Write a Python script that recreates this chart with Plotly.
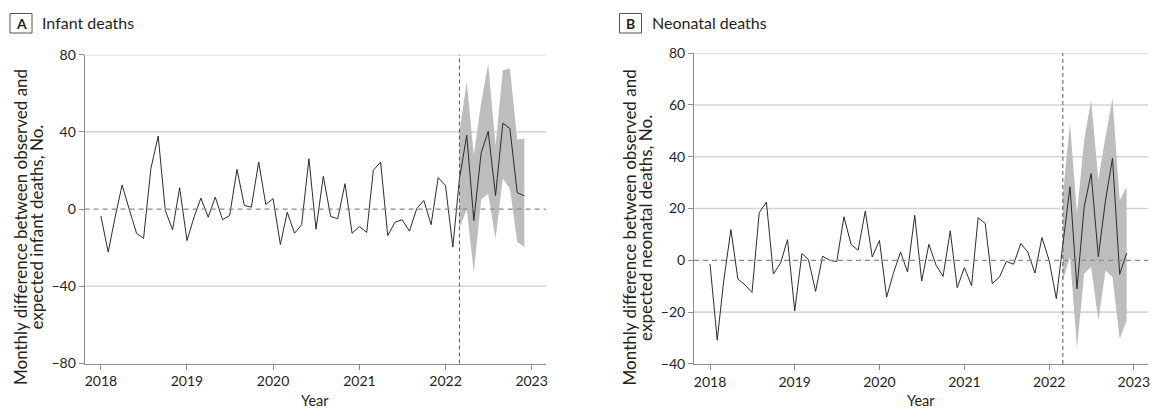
import plotly.graph_objects as go
import pandas as pd

# ---------------- data ----------------
months = pd.date_range("2018-01-01", "2022-12-01", freq="MS")
band_months = pd.date_range("2022-03-01", "2022-12-01", freq="MS")
intervention = "2022-03-01"

infant_diff = [-3.5, -22.3, -5, 12.5, 0, -12.5, -15.2, 21, 37.9, -0.7,
               -10.7, 11.1, -16.3, -3.8, 5.7, -4.2, 6.2, -5.5, -3.3, 20.6,
               1.9, 1.0, 24.4, 2.4, 5.4, -18.4, -1.6, -12.5, -8.1, 26.1,
               -10.4, 17.0, -3.8, -5.0, 13.2, -12.5, -9.0, -12.1, 20.1, 24.4,
               -13.7, -6.8, -5.5, -11.4, 0.2, 4.5, -8.1, 16.3, 12.3, -19.7,
               15.6, 38.3, -5.9, 29, 40.3, 7, 44.5, 41.7, 8.5, 6.9]
infant_upper = [40, 66, 28, 55, 75.5, 33, 72, 73, 36, 36.5]
infant_lower = [-10, 0, -33, 5, 8, -15.5, 15.8, 10.6, -17, -19.7]

neonatal_diff = [-1.4, -30.8, -8, 11.9, -7.2, -9.5, -12.4, 18.4, 22.5, -5.3,
                 -1.0, 8.0, -19.5, 2.6, 0.3, -12.0, 1.6, 0, -0.5, 16.8,
                 6.1, 3.9, 19.0, 1.3, 7.7, -14.2, -5, 3.2, -4.5, 17.4,
                 -8.0, 6.2, -1.9, -6.2, 11.4, -10.6, -2.8, -9.8, 16.5, 14.2,
                 -9.0, -6.5, -0.4, -1.5, 6.5, 3.2, -4.9, 8.8, 0, -14.8,
                 6, 28.4, -11, 20.6, 33.5, 1.4, 23.2, 39.4, -5.4, 2.8]
neonatal_upper = [25, 52.9, 18, 46.5, 62, 31, 47.7, 62.6, 23.2, 28.4]
neonatal_lower = [-8, 1.3, -34, -5.2, -2.6, -23.2, -3.9, -6.5, -30.3, -23.2]

year_ticks = ["2018-01-01", "2019-01-01", "2020-01-01", "2021-01-01", "2022-01-01", "2023-01-01"]
year_labels = ["2018", "2019", "2020", "2021", "2022", "2023"]
infant_yticks = [-80, -40, 0, 40, 80]
neonatal_yticks = [-40, -20, 0, 20, 40, 60, 80]

panel_letters = ["A", "B"]
panel_titles = ["Infant deaths", "Neonatal deaths"]
ytitle_line1 = "Monthly difference between observed and"
ytitle_line2 = ["expected infant deaths, No.", "expected neonatal deaths, No."]

# ---------------- layout helpers ----------------
W, H = 1157, 409
def fx(p):
    return p / W
def fy(p):
    return 1 - p / H

FONT = "Lato"
TXT = "#231f20"
AXC = "#8c8c8c"
GRID = "#d6d6d6"
BAND = "#bdbdbd"

fig = go.Figure()

panels = [
    dict(x="x", y="y", diff=infant_diff, up=infant_upper, lo=infant_lower,
         yt=infant_yticks, yr=[-80, 80], xdom=[fx(84.6), fx(546)], ydom=[fy(363.5), fy(54.7)]),
    dict(x="x2", y="y2", diff=neonatal_diff, up=neonatal_upper, lo=neonatal_lower,
         yt=neonatal_yticks, yr=[-40, 80], xdom=[fx(694), fx(1148)], ydom=[fy(363.9), fy(53.2)]),
]

shapes = []
annotations = []
x_range = ["2017-10-24", "2023-03-03"]

for k, p in enumerate(panels):
    bx = list(band_months) + list(band_months[::-1])
    by = p["up"] + p["lo"][::-1]
    fig.add_trace(go.Scatter(x=bx, y=by, fill="toself", fillcolor=BAND,
                             line=dict(width=0), mode="lines", hoverinfo="skip",
                             xaxis=p["x"], yaxis=p["y"], showlegend=False))
    fig.add_trace(go.Scatter(x=months, y=p["diff"], mode="lines",
                             line=dict(color="#2b2b2b", width=1),
                             xaxis=p["x"], yaxis=p["y"], showlegend=False))
    xs = "" if k == 0 else "2"
    for v in p["yt"]:
        if v == 0 or v == p["yr"][0]:
            continue
        shapes.append(dict(type="line", xref=f"x{xs} domain", yref=f"y{xs}",
                           x0=0, x1=1, y0=v, y1=v, layer="below",
                           line=dict(color=GRID, width=1.6)))
    shapes.append(dict(type="line", xref=f"x{xs} domain", yref=f"y{xs}",
                       x0=0, x1=1, y0=0, y1=0, layer="above",
                       line=dict(color="#8a8a8a", width=1.3, dash="5px,4px")))
    shapes.append(dict(type="line", xref=f"x{xs}", yref=f"y{xs} domain",
                       x0=intervention, x1=intervention, y0=0, y1=1, layer="above",
                       line=dict(color="#555555", width=1, dash="4px,3px")))

    ax = dict(domain=p["xdom"], type="date", range=x_range, automargin=False,
              tickvals=year_ticks, ticktext=year_labels, ticks="outside",
              ticklen=5, tickcolor=AXC, showline=True, linecolor=AXC, linewidth=1,
              showgrid=False, zeroline=False,
              tickfont=dict(family=FONT, size=14, color=TXT),
              anchor="y" + xs)
    ay = dict(domain=p["ydom"], range=p["yr"], tickvals=p["yt"], automargin=False,
              ticks="outside", ticklen=5, tickcolor=AXC, showline=True,
              linecolor=AXC, linewidth=1, showgrid=False, zeroline=False,
              tickfont=dict(family=FONT, size=14, color=TXT),
              anchor="x" + xs)
    fig.layout["xaxis" + xs] = ax
    fig.layout["yaxis" + xs] = ay

    off = 0 if k == 0 else 609.4
    boff = 0 if k == 0 else 609.5
    shapes.append(dict(type="rect", xref="paper", yref="paper",
                       x0=fx(10 + boff), x1=fx(32 + boff), y0=fy(33), y1=fy(13.5),
                       line=dict(color="#555555", width=1), fillcolor="white"))
    annotations.append(dict(text="<b>" + panel_letters[k] + "</b>", xref="paper", yref="paper",
                            x=fx(21 + boff), y=fy(23.5), showarrow=False,
                            xanchor="center", yanchor="middle",
                            font=dict(family=FONT, size=14, color=TXT)))
    annotations.append(dict(text=panel_titles[k], xref="paper", yref="paper",
                            x=fx(40 + boff), y=fy(22.5), showarrow=False,
                            xanchor="left", yanchor="middle",
                            font=dict(family=FONT, size=16, color=TXT)))
    annotations.append(dict(text=ytitle_line1, xref="paper", yref="paper",
                            x=fx(20.5 + off), y=fy(227.5), showarrow=False, textangle=-90,
                            xanchor="center", yanchor="middle",
                            font=dict(family=FONT, size=17, color=TXT)))
    annotations.append(dict(text=ytitle_line2[k], xref="paper", yref="paper",
                            x=fx(36 + off), y=fy(227.5), showarrow=False, textangle=-90,
                            xanchor="center", yanchor="middle",
                            font=dict(family=FONT, size=17, color=TXT)))
    annotations.append(dict(text="Year", xref="paper", yref="paper",
                            x=(p["xdom"][0] + p["xdom"][1]) / 2, y=fy(400), showarrow=False,
                            xanchor="center", yanchor="middle",
                            font=dict(family=FONT, size=14.5, color=TXT)))

fig.update_layout(width=W, height=H, margin=dict(l=0, r=0, t=0, b=0, autoexpand=False),
                  paper_bgcolor="white", plot_bgcolor="white",
                  shapes=shapes, annotations=annotations, showlegend=False)

fig.write_html("out.html", config={"displayModeBar": False},
               post_script="document.body.style.margin='0';document.body.style.padding='0';")
